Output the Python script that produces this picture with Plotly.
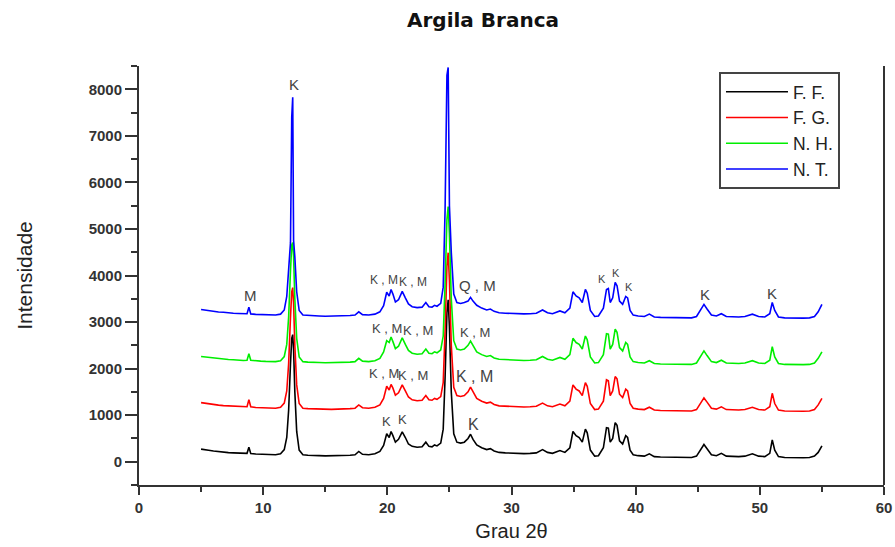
import plotly.graph_objects as go

TWO_THETA = [
    5.0, 5.3, 5.6, 6.0, 6.4, 6.8, 7.2, 7.6, 8.0, 8.4,
    8.7, 8.85, 9.0, 9.4, 9.8, 10.2, 10.6, 11.0, 11.4, 11.7,
    11.9, 12.05, 12.2, 12.3, 12.38, 12.45, 12.55, 12.7, 12.9, 13.2,
    13.6, 14.0, 14.5, 15.0, 15.5, 16.0, 16.5, 17.0, 17.4, 17.7,
    18.0, 18.5, 19.0, 19.4, 19.7, 19.95, 20.15, 20.3, 20.45, 20.65,
    20.9, 21.2, 21.45, 21.7, 22.0, 22.4, 22.8, 23.1, 23.35, 23.6,
    23.8, 24.0, 24.3, 24.5, 24.65, 24.8, 24.9, 25.0, 25.15, 25.35,
    25.6, 25.9, 26.2, 26.5, 26.7, 26.9, 27.2, 27.6, 28.0, 28.3,
    28.6, 29.0, 29.5, 30.0, 30.5, 31.0, 31.5, 32.0, 32.5, 32.9,
    33.3, 33.9, 34.3, 34.7, 34.95, 35.2, 35.45, 35.7, 35.95, 36.1,
    36.35, 36.7, 37.0, 37.4, 37.65, 37.8, 37.95, 38.15, 38.35, 38.5,
    38.7, 38.95, 39.2, 39.35, 39.55, 39.8, 40.2, 40.7, 41.1, 41.5,
    42.0, 42.5, 43.0, 43.5, 44.0, 44.5, 44.9, 45.3, 45.5, 45.75,
    46.1, 46.5, 46.9, 47.3, 47.8, 48.3, 48.8, 49.4, 49.9, 50.4,
    50.8, 51.0, 51.2, 51.5, 52.0, 52.5, 53.0, 53.5, 54.0, 54.4,
    54.7, 55.0,
]

FF = [
    270, 250, 245, 230, 215, 210, 195, 190, 185, 175,
    180, 310, 175, 165, 160, 155, 150, 150, 170, 260,
    520, 1100, 2100, 2650, 2730, 2400, 1500, 650, 250, 150,
    140, 130, 130, 125, 125, 130, 130, 140, 150, 220,
    160, 150, 170, 220, 350, 600, 520, 650, 560, 420,
    480, 640, 520, 380, 330, 310, 320, 420, 330, 320,
    360, 340, 400, 700, 1800, 3200, 3480, 2900, 1500, 600,
    420, 400, 420, 500, 590, 480, 360, 300, 260, 280,
    230, 200, 190, 180, 180, 175, 180, 190, 260, 200,
    180, 240, 200, 300, 650, 560, 520, 420, 700, 620,
    250, 120, 130, 300, 730, 720, 420, 500, 840, 780,
    450, 380, 560, 520, 250, 150, 130, 120, 170, 110,
    100, 95, 90, 85, 85, 90, 120, 300, 370, 280,
    150, 130, 180, 120, 110, 110, 120, 170, 120, 110,
    180, 470, 250, 110, 90, 85, 80, 85, 90, 120,
    200, 340,
]

FG = [
    1270, 1255, 1240, 1230, 1215, 1205, 1200, 1190, 1180, 1175,
    1180, 1330, 1180, 1165, 1160, 1150, 1150, 1150, 1170, 1260,
    1520, 2100, 3100, 3650, 3740, 3400, 2500, 1650, 1250, 1150,
    1140, 1135, 1130, 1125, 1125, 1130, 1130, 1140, 1150, 1220,
    1160, 1150, 1170, 1220, 1360, 1620, 1540, 1660, 1580, 1430,
    1480, 1650, 1520, 1390, 1330, 1310, 1320, 1420, 1330, 1320,
    1360, 1340, 1400, 1700, 2800, 4200, 4490, 3900, 2500, 1600,
    1420, 1400, 1420, 1500, 1600, 1500, 1360, 1300, 1260, 1280,
    1230, 1200, 1190, 1180, 1180, 1175, 1180, 1190, 1260, 1200,
    1180, 1240, 1200, 1300, 1650, 1560, 1520, 1420, 1700, 1620,
    1250, 1120, 1130, 1300, 1760, 1740, 1420, 1520, 1830, 1780,
    1450, 1380, 1560, 1520, 1250, 1150, 1130, 1120, 1170, 1110,
    1100, 1095, 1090, 1085, 1085, 1090, 1120, 1300, 1370, 1280,
    1150, 1130, 1180, 1120, 1110, 1110, 1120, 1170, 1120, 1110,
    1180, 1470, 1250, 1110, 1090, 1085, 1080, 1085, 1090, 1120,
    1220, 1360,
]

NH = [
    2260, 2250, 2240, 2225, 2210, 2205, 2195, 2190, 2180, 2175,
    2180, 2320, 2180, 2165, 2160, 2155, 2150, 2150, 2170, 2260,
    2520, 3100, 4100, 4650, 4710, 4400, 3500, 2650, 2250, 2150,
    2140, 2130, 2130, 2125, 2125, 2130, 2130, 2140, 2150, 2220,
    2160, 2150, 2170, 2220, 2360, 2600, 2560, 2680, 2580, 2430,
    2480, 2660, 2520, 2390, 2330, 2310, 2320, 2420, 2330, 2320,
    2360, 2340, 2400, 2700, 3800, 5200, 5480, 4900, 3500, 2600,
    2420, 2400, 2420, 2500, 2590, 2500, 2360, 2300, 2260, 2280,
    2230, 2200, 2190, 2180, 2180, 2175, 2180, 2190, 2260, 2200,
    2180, 2240, 2200, 2300, 2650, 2560, 2520, 2420, 2700, 2620,
    2250, 2120, 2130, 2300, 2750, 2740, 2420, 2520, 2850, 2780,
    2450, 2380, 2560, 2520, 2250, 2150, 2130, 2120, 2170, 2110,
    2100, 2095, 2090, 2085, 2085, 2090, 2120, 2300, 2380, 2280,
    2150, 2130, 2180, 2120, 2110, 2110, 2120, 2170, 2120, 2110,
    2180, 2470, 2250, 2110, 2090, 2085, 2080, 2085, 2090, 2120,
    2220, 2360,
]

NT = [
    3270, 3255, 3245, 3230, 3215, 3210, 3195, 3190, 3185, 3175,
    3180, 3320, 3175, 3165, 3160, 3155, 3150, 3150, 3170, 3260,
    3550, 4100, 4700, 7400, 7830, 4750, 4400, 3650, 3250, 3150,
    3140, 3130, 3130, 3125, 3125, 3130, 3130, 3140, 3150, 3220,
    3160, 3150, 3170, 3220, 3350, 3640, 3560, 3700, 3600, 3430,
    3480, 3660, 3520, 3390, 3330, 3310, 3320, 3420, 3330, 3320,
    3360, 3340, 3400, 3750, 5400, 8300, 8470, 5500, 4500, 3600,
    3420, 3400, 3420, 3450, 3530, 3450, 3360, 3300, 3260, 3280,
    3230, 3200, 3190, 3180, 3180, 3175, 3180, 3190, 3260, 3200,
    3180, 3240, 3200, 3300, 3650, 3560, 3520, 3420, 3700, 3620,
    3250, 3120, 3130, 3300, 3700, 3720, 3420, 3520, 3850, 3780,
    3450, 3380, 3550, 3520, 3250, 3150, 3130, 3120, 3170, 3110,
    3100, 3095, 3090, 3085, 3085, 3090, 3120, 3300, 3380, 3280,
    3150, 3130, 3180, 3120, 3110, 3110, 3120, 3170, 3120, 3110,
    3180, 3420, 3250, 3110, 3090, 3085, 3080, 3085, 3090, 3120,
    3220, 3380,
]

SERIES_NAMES = ["F. F.", "F. G.", "N. H.", "N. T."]
SERIES_VALUES = [FF, FG, NH, NT]
SERIES_COLORS = ["#000000", "#ff0000", "#00ee00", "#0000ff"]

# peak labels
LABEL_TEXT = ["K", "K , M", "M", "K , M", "K , M", "Q , M", "K", "K", "K", "K", "K",
              "K , M", "K , M", "K , M",
              "K , M", "K , M", "K , M",
              "K", "K", "K"]
LABEL_X = [12.5, 24.95, 8.95, 19.7, 22.1, 27.3, 37.3, 38.4, 39.45, 45.55, 50.95,
           19.95, 22.45, 27.05,
           19.7, 22.1, 27.05,
           19.95, 21.25, 26.9]
LABEL_Y = [8100, 8720, 3560, 3900, 3850, 3780, 3930, 4060, 3760, 3590, 3610,
           2860, 2820, 2770,
           1890, 1850, 1830,
           860, 900, 800]
LABEL_SIZE = [15, 15, 15, 12, 12, 15, 11, 11, 11, 15, 15,
              13, 13, 13,
              13, 13, 16,
              13, 13, 16]

assert all(len(v) == len(TWO_THETA) for v in SERIES_VALUES)

fig = go.Figure()
for name, vals, col in zip(SERIES_NAMES, SERIES_VALUES, SERIES_COLORS):
    fig.add_trace(go.Scatter(x=TWO_THETA, y=vals, mode="lines", name=name,
                             line=dict(color=col, width=1.6)))

for t, x, y, s in zip(LABEL_TEXT, LABEL_X, LABEL_Y, LABEL_SIZE):
    fig.add_annotation(x=x, y=y, text=t, showarrow=False, xanchor="center", yanchor="middle",
                       font=dict(family="Liberation Sans, Arial, sans-serif", size=s, color="#444444"))

axis_col = "#333333"
fig.update_layout(
    width=895, height=547,
    margin=dict(l=139, r=11, t=66, b=62),
    paper_bgcolor="white", plot_bgcolor="white",
    title=dict(text="<b>Argila Branca</b>", x=483/895, xanchor="center",
               y=1 - 20/547, yanchor="middle", yref="container",
               font=dict(family="DejaVu Sans, sans-serif", size=20, color="#111111")),
    showlegend=True,
    legend=dict(x=0.7785, y=0.986, xanchor="left", yanchor="top",
                bgcolor="white", bordercolor="#444444", borderwidth=2,
                itemwidth=62,
                font=dict(family="Liberation Sans, Arial, sans-serif", size=17.5, color="#222222"),
                tracegroupgap=0),
    xaxis=dict(range=[0, 60], tickvals=[0, 10, 20, 30, 40, 50, 60], automargin=False,
               showgrid=False, zeroline=False, showline=True, linecolor=axis_col, linewidth=2,
               ticks="outside", ticklen=8, tickwidth=1.5, tickcolor=axis_col,
               minor=dict(tickvals=[5, 15, 25, 35, 45, 55], ticks="outside", ticklen=5,
                          tickwidth=1.5, tickcolor=axis_col),
               tickfont=dict(family="Liberation Sans, Arial, sans-serif", size=15,
                             color="#333333", weight="bold"),
               title=dict(text="Grau 2θ", standoff=9,
                          font=dict(family="Liberation Sans, Arial, sans-serif", size=20,
                                    color="#222222"))),
    yaxis=dict(range=[-500, 8500], tickvals=[0, 1000, 2000, 3000, 4000, 5000, 6000, 7000, 8000],
               automargin=False,
               showgrid=False, zeroline=False, showline=True, linecolor=axis_col, linewidth=2,
               ticks="outside", ticklen=12, tickwidth=1.5, tickcolor=axis_col,
               minor=dict(tickvals=[-500, 500, 1500, 2500, 3500, 4500, 5500, 6500, 7500, 8500],
                          ticks="outside", ticklen=6, tickwidth=1.5, tickcolor=axis_col),
               tickfont=dict(family="Liberation Sans, Arial, sans-serif", size=15,
                             color="#333333", weight="bold"),
               title=dict(text="Intensidade", standoff=50,
                          font=dict(family="Liberation Sans Narrow, Liberation Sans, Arial, sans-serif",
                                    size=21, color="#222222"))),
)
# right frame line
fig.add_shape(type="line", xref="paper", yref="paper", x0=1, x1=1, y0=0, y1=1,
              line=dict(color=axis_col, width=2))

fig.write_html("out.html")
